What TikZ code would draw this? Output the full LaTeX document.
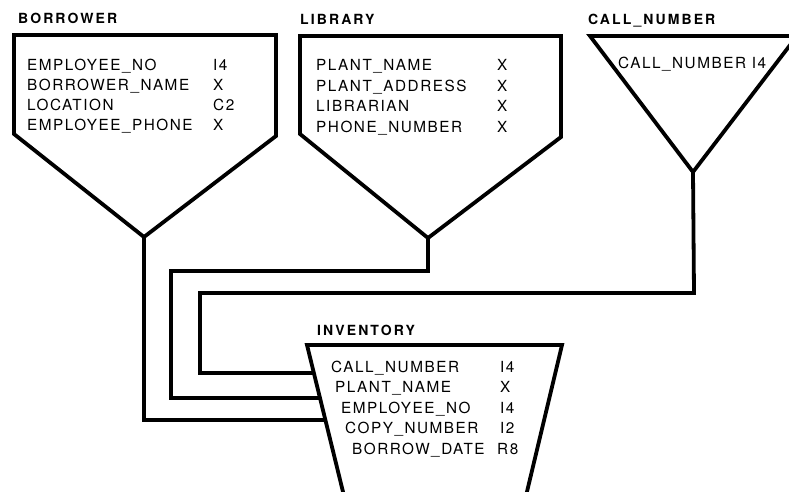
\documentclass[tikz,border=0pt]{standalone}
\usepackage{fontspec}
\setmainfont{TeX Gyre Heros}
\newfontfamily\fieldfam[LetterSpace=10]{TeX Gyre Heros}
\newfontfamily\titlefam[LetterSpace=15]{TeX Gyre Heros}
\begin{document}
\begin{tikzpicture}[x=1pt,y=-1pt,
  outline/.style={line width=3.8pt, line join=miter},
  wire/.style={line width=3.8pt, line join=miter},
  fld/.style={anchor=base west, inner sep=0pt, font=\fieldfam\fontsize{15.3}{17}\selectfont},
  ttl/.style={anchor=base west, inner sep=0pt, font=\titlefam\bfseries\fontsize{14}{16}\selectfont}]
\useasboundingbox (0,0) rectangle (789,491);
\clip (0,0) rectangle (789,491);
% ---- BORROWER ----
\node[ttl] (tB) at (18,23) {BORROWER};
\coordinate (bTL) at (14,35);
\coordinate (bTR) at (276,35);
\coordinate (bR) at (276,136);
\coordinate (bL) at (14,134);
\coordinate (bV) at (144,237);
\draw[outline] (bV) -- (bL) -- (bTL) -- (bTR) -- (bR) -- cycle;
\node[fld] (b1) at (27,70) {EMPLOYEE\_NO};
\node[fld] (b2) at (27,90) {BORROWER\_NAME};
\node[fld] (b3) at (27,110) {LOCATION};
\node[fld] (b4) at (27,130.5) {EMPLOYEE\_PHONE};
\node[fld] (b1t) at (213,70) {I4};
\node[fld] (b2t) at (213,90) {X};
\node[fld] (b3t) at (213,110) {C2};
\node[fld] (b4t) at (213,130.5) {X};
% ---- LIBRARY ----
\node[ttl] (tL) at (300,24) {LIBRARY};
\coordinate (lTL) at (300,36);
\coordinate (lTR) at (561,36);
\coordinate (lR) at (561,137);
\coordinate (lL) at (300,134);
\coordinate (lV) at (428,238);
\draw[outline] (lV) -- (lL) -- (lTL) -- (lTR) -- (lR) -- cycle;
\node[fld] (l1) at (316,70) {PLANT\_NAME};
\node[fld] (l2) at (316,91) {PLANT\_ADDRESS};
\node[fld] (l3) at (316,111) {LIBRARIAN};
\node[fld] (l4) at (316,132) {PHONE\_NUMBER};
\node[fld] (l1t) at (497,70) {X};
\node[fld] (l2t) at (497,91) {X};
\node[fld] (l3t) at (497,111) {X};
\node[fld] (l4t) at (497,132) {X};
% ---- CALL_NUMBER ----
\node[ttl] (tC) at (588,24) {CALL\_NUMBER};
\coordinate (cTL) at (590,36);
\coordinate (cTR) at (797,36);
\coordinate (cV) at (693,172);
\draw[outline] (cV) -- (cTL) -- (cTR) -- cycle;
\node[fld] (c1) at (618,68) {CALL\_NUMBER I4};
% ---- INVENTORY ----
\node[ttl] (tI) at (317,335) {INVENTORY};
\coordinate (iTL) at (307,345);
\coordinate (iTR) at (562,345);
\coordinate (iBL) at (345,500);
\coordinate (iBR) at (525,500);
\draw[outline] (iBL) -- (iTL) -- (iTR) -- (iBR);
\node[fld] (i1) at (331,372) {CALL\_NUMBER};
\node[fld] (i2) at (335,392) {PLANT\_NAME};
\node[fld] (i3) at (341,413) {EMPLOYEE\_NO};
\node[fld] (i4) at (345,433) {COPY\_NUMBER};
\node[fld] (i5) at (352,454) {BORROW\_DATE};
\node[fld] (i1t) at (500,372) {I4};
\node[fld] (i2t) at (500,392) {X};
\node[fld] (i3t) at (500,413) {I4};
\node[fld] (i4t) at (500,433) {I2};
\node[fld] (i5t) at (497,454) {R8};
% ---- connectors ----
\coordinate (cA) at (694,293);
\coordinate (cB) at (200,293);
\coordinate (cC) at (200,373);
\coordinate (cE) at (0,373);
\draw[wire] (cV) -- (cA) -- (cB) -- (cC) -- (intersection of iTL--iBL and cC--cE);
\coordinate (lA) at (428,271);
\coordinate (lB) at (171,271);
\coordinate (lC) at (171,398);
\coordinate (lE) at (0,398);
\draw[wire] (lV) -- (lA) -- (lB) -- (lC) -- (intersection of iTL--iBL and lC--lE);
\coordinate (bA) at (144,420);
\coordinate (bE) at (0,420);
\draw[wire] (bV) -- (bA) -- (intersection of iTL--iBL and bA--bE);
\end{tikzpicture}
\end{document}
